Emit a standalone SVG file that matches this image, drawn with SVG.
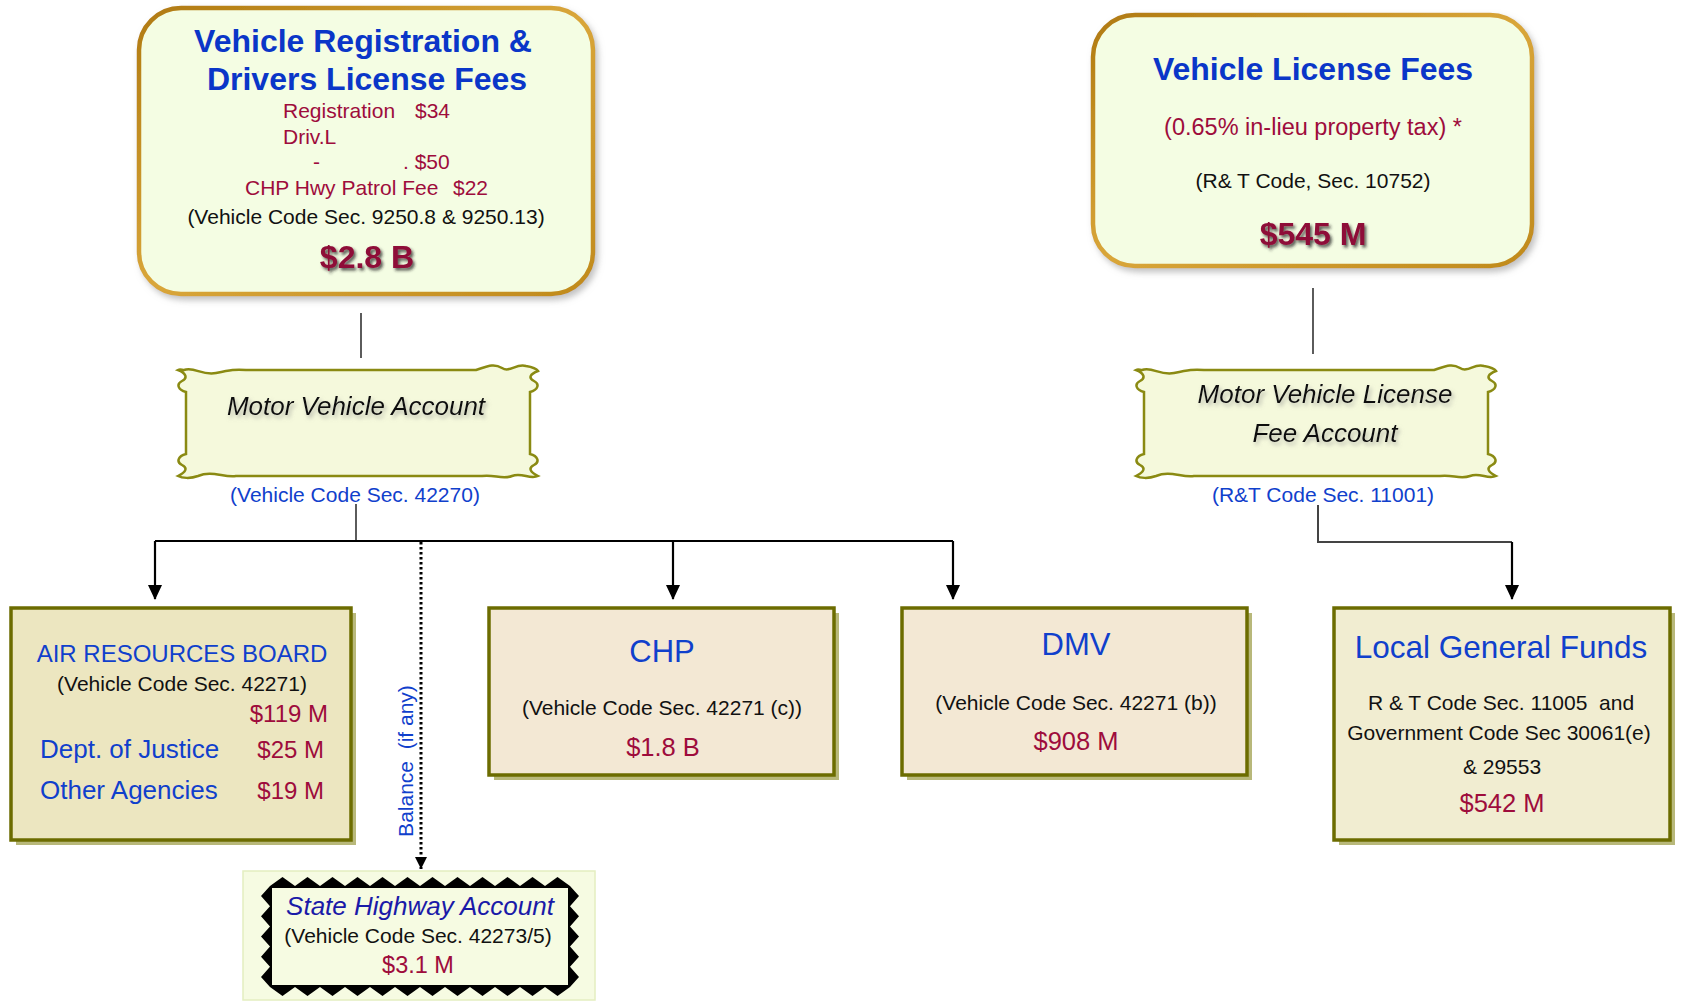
<svg xmlns="http://www.w3.org/2000/svg" width="1681" height="1001" viewBox="0 0 1681 1001">
<style>
text{font-family:"Liberation Sans",Arial,sans-serif}
.ttl{font-size:32px;font-weight:bold;fill:#0a36c8;text-anchor:middle}
.red{fill:#9e0c3c}
.blk{fill:#111}
.blu{fill:#1040cc}
.big{font-size:32px;font-weight:bold;fill:#8e0a38;text-anchor:middle;filter:url(#tsh)}
.s21{font-size:21px}
.mid{text-anchor:middle}
.ital{font-style:italic;font-size:26px;fill:#111;text-anchor:middle;filter:url(#tsh2)}
.top{fill:#f4fde3;stroke:url(#gold);stroke-width:4.5;filter:url(#bsh)}
.wave{fill:#f5f9dc;stroke:#8a8a12;stroke-width:2.5}
.bx{stroke:#6c6c00;stroke-width:3.5}
.shd{fill:#b8b87a}
.conn{fill:none;stroke:#000;stroke-width:2.2}
.thin{fill:none;stroke:#333;stroke-width:1.6}
</style>
<defs>
<linearGradient id="gold" x1="0" y1="0" x2="1" y2="1"><stop offset="0" stop-color="#b07a10"/><stop offset="0.5" stop-color="#d9a63a"/><stop offset="1" stop-color="#c08a1c"/></linearGradient>
<filter id="tsh" x="-20%" y="-30%" width="140%" height="160%"><feDropShadow dx="2" dy="2.5" stdDeviation="1.5" flood-color="#222" flood-opacity="0.75"/></filter>
<filter id="tsh2" x="-10%" y="-30%" width="120%" height="160%"><feDropShadow dx="2" dy="3" stdDeviation="2" flood-color="#888" flood-opacity="0.6"/></filter>
<filter id="bsh" x="-5%" y="-5%" width="112%" height="115%"><feDropShadow dx="3" dy="4" stdDeviation="3" flood-color="#999" flood-opacity="0.6"/></filter>
<marker id="ah" markerUnits="userSpaceOnUse" markerWidth="16" markerHeight="20" refX="14" refY="7" orient="auto"><path d="M0,0 L15,7 L0,14 Z" fill="#000"/></marker>
<marker id="ah2" markerUnits="userSpaceOnUse" markerWidth="14" markerHeight="14" refX="12" refY="6" orient="auto"><path d="M0,0 L12,6 L0,12 Z" fill="#000"/></marker>
<path id="wavy" d="M8,4 C18,0 26,10 40,7 C54,4 60,3 70,4 L300,4 C312,0 318,-3 326,2 C334,7 340,-3 350,0 C356,1 360,2 362,5 C354,8 352,12 358,15 C364,18 362,24 354,26 L354,88 C362,90 364,96 358,99 C352,102 354,106 362,110 C354,114 346,106 336,110 C326,114 318,108 306,110 L60,110 C48,112 36,104 22,110 C14,113 6,112 2,110 C10,106 12,102 6,99 C0,96 2,90 10,88 L10,26 C2,24 0,18 6,15 C12,12 10,7 2,4 C4,3 6,4 8,4 Z"/>
</defs>
<rect width="1681" height="1001" fill="#fff"/>

<g id="connectors">
<line class="thin" x1="361" y1="313" x2="361" y2="358"/>
<line class="thin" x1="1313" y1="288" x2="1313" y2="354"/>
<line class="thin" x1="356" y1="504" x2="356" y2="541"/>
<line class="conn" x1="155" y1="541" x2="953" y2="541"/>
<line class="conn" x1="155" y1="541" x2="155" y2="599" marker-end="url(#ah)"/>
<line class="conn" x1="673" y1="541" x2="673" y2="599" marker-end="url(#ah)"/>
<line class="conn" x1="953" y1="541" x2="953" y2="599" marker-end="url(#ah)"/>
<line x1="421" y1="542" x2="421" y2="869" stroke="#000" stroke-width="3" stroke-dasharray="2.5,2.5" marker-end="url(#ah2)"/>
<polyline points="1318,505 1318,542 1512,542" fill="none" stroke="#444" stroke-width="2"/>
<line class="conn" x1="1512" y1="542" x2="1512" y2="599" marker-end="url(#ah)"/>
<text class="blu" font-size="21" text-anchor="middle" xml:space="preserve" transform="rotate(-90 413 761)" x="413" y="761">Balance  (if any)</text>
</g>

<g id="vrdlf">
<rect class="top" x="139" y="8" width="454" height="286" rx="42"/>
<text class="ttl" x="363" y="52">Vehicle Registration &amp;</text>
<text class="ttl" x="367" y="90">Drivers License Fees</text>
<text class="red s21" x="283" y="118">Registration</text>
<text class="red s21" x="415" y="118">$34</text>
<text class="red s21" x="283" y="144">Driv.L</text>
<text class="red s21" x="313" y="169">-</text>
<text class="red s21" x="403" y="169">. $50</text>
<text class="red s21" x="245" y="195">CHP Hwy Patrol Fee</text>
<text class="red s21" x="453" y="195">$22</text>
<text class="blk s21 mid" x="366" y="224">(Vehicle Code Sec. 9250.8 &amp; 9250.13)</text>
<text class="big" x="367" y="268" font-size="31">$2.8 B</text>
</g>

<g id="vlf">
<rect class="top" x="1093" y="15" width="439" height="251" rx="42"/>
<text class="ttl" x="1313" y="80">Vehicle License Fees</text>
<text class="red mid" font-size="23.5" x="1313" y="135">(0.65% in-lieu property tax) *</text>
<text class="blk s21 mid" x="1313" y="188">(R&amp; T Code, Sec. 10752)</text>
<text class="big" x="1313" y="245">$545 M</text>
</g>

<g id="mva">
<use href="#wavy" class="wave" transform="translate(176,366)"/>
<text class="ital" x="356" y="415">Motor Vehicle Account</text>
<text class="blu s21 mid" x="355" y="502">(Vehicle Code Sec. 42270)</text>
</g>

<g id="mvlfa">
<use href="#wavy" class="wave" transform="translate(1134,366)"/>
<text class="ital" x="1325" y="403">Motor Vehicle License</text>
<text class="ital" x="1325" y="442">Fee Account</text>
<text class="blu s21 mid" x="1323" y="502">(R&amp;T Code Sec. 11001)</text>
</g>

<g id="arb">
<rect class="shd" x="16" y="613" width="340" height="232"/>
<rect class="bx" x="11" y="608" width="340" height="232" fill="#ece6c0"/>
<text class="blu mid" font-size="24" x="182" y="662">AIR RESOURCES BOARD</text>
<text class="blk s21 mid" x="182" y="691">(Vehicle Code Sec. 42271)</text>
<text class="red" font-size="24" text-anchor="end" x="328" y="722">$119 M</text>
<text class="blu" font-size="26" x="40" y="758">Dept. of Justice</text>
<text class="red" font-size="24" text-anchor="end" x="324" y="758">$25 M</text>
<text class="blu" font-size="26" x="40" y="799">Other Agencies</text>
<text class="red" font-size="24" text-anchor="end" x="324" y="799">$19 M</text>
</g>

<g id="chp">
<rect class="shd" x="494" y="613" width="345" height="167"/>
<rect class="bx" x="489" y="608" width="345" height="167" fill="#f3e8d4"/>
<text class="blu mid" font-size="31" x="662" y="662">CHP</text>
<text class="blk s21 mid" x="662" y="715">(Vehicle Code Sec. 42271 (c))</text>
<text class="red mid" font-size="25.5" x="663" y="756">$1.8 B</text>
</g>

<g id="dmv">
<rect class="shd" x="907" y="613" width="345" height="167"/>
<rect class="bx" x="902" y="608" width="345" height="167" fill="#f3e8d4"/>
<text class="blu mid" font-size="31" x="1076" y="655">DMV</text>
<text class="blk s21 mid" x="1076" y="710">(Vehicle Code Sec. 42271 (b))</text>
<text class="red mid" font-size="25.5" x="1076" y="750">$908 M</text>
</g>

<g id="lgf">
<rect class="shd" x="1339" y="613" width="336" height="232"/>
<rect class="bx" x="1334" y="608" width="336" height="232" fill="#f1edd1"/>
<text class="blu mid" font-size="31.5" x="1501" y="658">Local General Funds</text>
<text class="blk s21 mid" xml:space="preserve" x="1501" y="710">R &amp; T Code Sec. 11005  and</text>
<text class="blk s21 mid" x="1499" y="740">Government Code Sec 30061(e)</text>
<text class="blk s21 mid" x="1502" y="774">&amp; 29553</text>
<text class="red mid" font-size="25.5" x="1502" y="812">$542 M</text>
</g>

<g id="sha">
<rect x="243" y="871" width="352" height="129" fill="#f6fbe2" stroke="#e4eec0" stroke-width="1.5"/>
<path fill="#000" d="M270,886 L282.5,877 L295,886 L307.5,877 L320,886 L332.5,877 L345,886 L357.5,877 L370,886 L382.5,877 L395,886 L407.5,877 L420,886 L432.5,877 L445,886 L457.5,877 L470,886 L482.5,877 L495,886 L507.5,877 L520,886 L532.5,877 L545,886 L557.5,877 L570,886 L579,896.1 L570,906.2 L579,916.3 L570,926.4 L579,936.5 L570,946.6 L579,956.7 L570,966.8 L579,976.9 L570,987 L557.5,996 L545,987 L532.5,996 L520,987 L507.5,996 L495,987 L482.5,996 L470,987 L457.5,996 L445,987 L432.5,996 L420,987 L407.5,996 L395,987 L382.5,996 L370,987 L357.5,996 L345,987 L332.5,996 L320,987 L307.5,996 L295,987 L282.5,996 L270,987 L261,976.9 L270,966.8 L261,956.7 L270,946.6 L261,936.5 L270,926.4 L261,916.3 L270,906.2 L261,896.1 Z"/>
<rect x="272" y="888" width="296" height="97" fill="#f6fbe2"/>
<text font-size="26" font-style="italic" fill="#1a1aa8" text-anchor="middle" x="420" y="915">State Highway Account</text>
<text class="blk s21 mid" x="418" y="943">(Vehicle Code Sec. 42273/5)</text>
<text class="red mid" font-size="23.5" x="418" y="973">$3.1 M</text>
</g>
</svg>
